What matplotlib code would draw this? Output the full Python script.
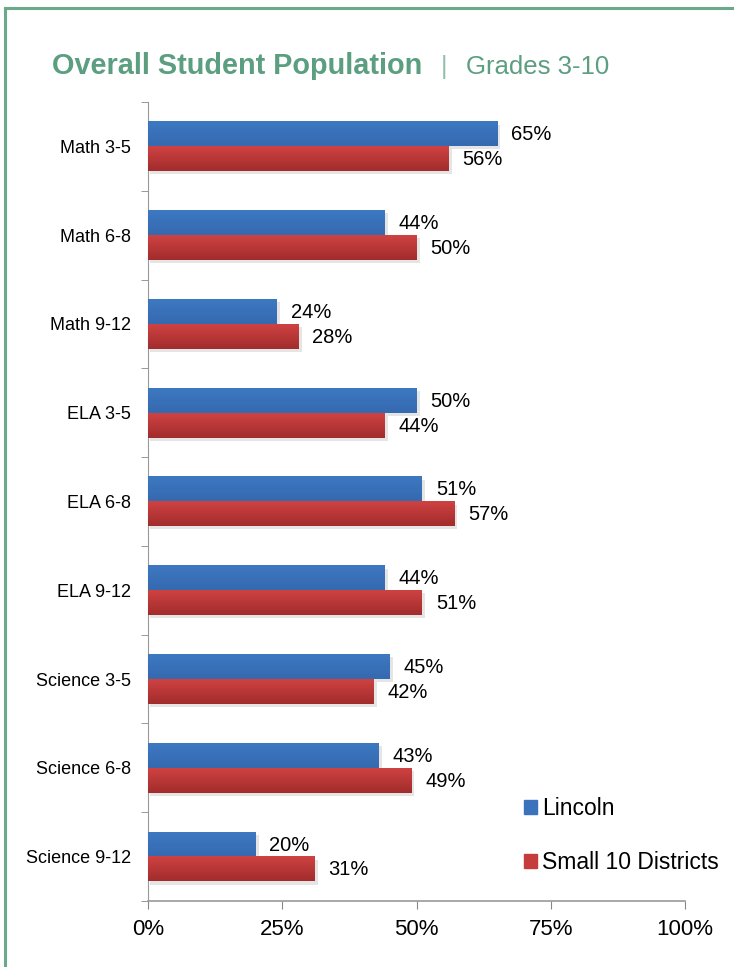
import numpy as np
import matplotlib
matplotlib.use("Agg")
import matplotlib.pyplot as plt
from matplotlib.lines import Line2D
from matplotlib.patches import Patch

# data
categories = ["Math 3-5", "Math 6-8", "Math 9-12", "ELA 3-5", "ELA 6-8",
              "ELA 9-12", "Science 3-5", "Science 6-8", "Science 9-12"]
lincoln = [65, 44, 24, 50, 51, 44, 45, 43, 20]
small10 = [56, 50, 28, 44, 57, 51, 42, 49, 31]
xticks = [0, 25, 50, 75, 100]

blue = "#3a73bb"
red = "#c63b3b"
green = "#5c9e80"

plt.rcParams['font.family'] = ['Liberation Sans', 'DejaVu Sans']

W, H = 734, 967
fig = plt.figure(figsize=(W / 100, H / 100), dpi=100)
ax = fig.add_axes([148 / W, 1 - 901 / H, 537 / W, 799 / H])

y = np.arange(len(categories))
h = 0.28


def gradient_bar(x0, ytop, w, color_top, color_bot):
    # vertical gradient fill for one bar
    grad = np.linspace(0, 1, 50).reshape(-1, 1, 1)
    c1 = np.array(matplotlib.colors.to_rgb(color_top))
    c2 = np.array(matplotlib.colors.to_rgb(color_bot))
    img = c1 + (c2 - c1) * grad
    img = np.repeat(img, 2, axis=1)
    ax.imshow(img, extent=[x0, x0 + w, ytop + h, ytop],
              aspect='auto', zorder=3, interpolation='bilinear')


for i in range(len(categories)):
    # soft shadows under each bar
    for val, yc in [(lincoln[i], y[i] - h / 2), (small10[i], y[i] + h / 2)]:
        ax.barh(yc + 0.035, val + 0.3, height=h, left=0.3,
                color='#000000', alpha=0.10, zorder=1, linewidth=0)
    gradient_bar(0, y[i] - h, lincoln[i], "#3d79c1", "#3569b0")
    gradient_bar(0, y[i], small10[i], "#cf4242", "#a22c2c")
    ax.text(lincoln[i] + 2.6, y[i] - h / 2 + 0.01, f"{lincoln[i]}%",
            va='center', ha='left', fontsize=14.5, zorder=4)
    ax.text(small10[i] + 2.6, y[i] + h / 2 + 0.01, f"{small10[i]}%",
            va='center', ha='left', fontsize=14.5, zorder=4)

ax.set_xlim(0, 100)
ax.set_ylim(len(categories) - 0.5, -0.5)
ax.set_xticks(xticks)
ax.set_xticklabels([f"{t}%" for t in xticks], fontsize=16)
ax.set_yticks(y)
ax.set_yticklabels(categories, fontsize=13)
ax.tick_params(axis='y', length=0, pad=12)
ax.set_yticks(np.arange(-0.5, len(categories)), minor=True)
ax.tick_params(axis='y', which='minor', length=5, color='#888888', direction='out')
ax.tick_params(axis='x', length=6, color='#888888', direction='out', pad=7)
for s in ['top', 'right']:
    ax.spines[s].set_visible(False)
ax.spines['left'].set_color('#999999')
ax.spines['bottom'].set_color('#999999')
ax.spines['bottom'].set_linewidth(1.2)

handles = [Patch(color=blue), Patch(color=red)]
leg = fig.legend(handles, ["Lincoln", "Small 10 Districts"], loc='upper left',
                 bbox_to_anchor=(515 / W, 1 - 788 / H), frameon=False, fontsize=16.5,
                 handlelength=0.55, handleheight=0.55, handletextpad=0.25,
                 labelspacing=1.35, borderaxespad=0)

# title, squeezed to the reference width
ty = 1 - 74 / H
t1 = fig.text(52 / W, ty, "Overall Student Population", color=green,
              fontsize=24, fontweight='bold', va='baseline')
t2 = fig.text(441 / W, ty, "|", color='#8fbfa8', fontsize=18, va='baseline')
t3 = fig.text(466 / W, ty, "Grades 3-10", color=green, fontsize=20,
              va='baseline')
fig.canvas.draw()
r = fig.canvas.get_renderer()
for t, width in [(t1, 372), (t3, 143)]:
    bb = t.get_window_extent(r)
    t.set_fontsize(t.get_fontsize() * width / bb.width)

# green frame lines
fig.add_artist(Line2D([5 / W, 5 / W], [0, 1 - 8 / H], color='#6aa98a',
                      lw=2.2, transform=fig.transFigure))
fig.add_artist(Line2D([5 / W, 1], [1 - 8 / H, 1 - 8 / H], color='#6aa98a',
                      lw=2.2, transform=fig.transFigure))

fig.savefig("out.png", dpi=100)
